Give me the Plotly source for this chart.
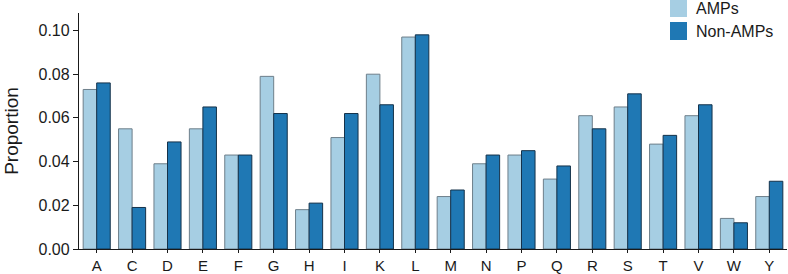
import plotly.graph_objects as go

categories = ["A", "C", "D", "E", "F", "G", "H", "I", "K", "L",
              "M", "N", "P", "Q", "R", "S", "T", "V", "W", "Y"]
amps = [0.073, 0.055, 0.039, 0.055, 0.043, 0.079, 0.018, 0.051, 0.080, 0.097,
        0.024, 0.039, 0.043, 0.032, 0.061, 0.065, 0.048, 0.061, 0.014, 0.024]
non_amps = [0.076, 0.019, 0.049, 0.065, 0.043, 0.062, 0.021, 0.062, 0.066, 0.098,
            0.027, 0.043, 0.045, 0.038, 0.055, 0.071, 0.052, 0.066, 0.012, 0.031]
y_ticks = [0.00, 0.02, 0.04, 0.06, 0.08, 0.10]
series_names = ["AMPs", "Non-AMPs"]
series_colors = ["#a6cee3", "#1f78b4"]

W, H = 788, 274
ML, MR, MT, MB = 79, 1, 13, 25
pw, ph = W - ML - MR, H - MT - MB

def px_x(x):
    return (x - ML) / pw

def px_y(y):
    return (H - MB - y) / ph

fig = go.Figure()
fig.add_trace(go.Bar(x=categories, y=amps, name=series_names[0],
                     marker=dict(color=series_colors[0], line=dict(color="#6e7f8a", width=1))))
fig.add_trace(go.Bar(x=categories, y=non_amps, name=series_names[1],
                     marker=dict(color=series_colors[1], line=dict(color="#15324a", width=1))))

# legend drawn manually (larger swatches like the reference)
shapes = []
annotations = []
for i, (nm, col) in enumerate(zip(series_names, series_colors)):
    top = -1 + i * 23
    shapes.append(dict(type="rect", xref="paper", yref="paper",
                       x0=px_x(670), x1=px_x(687), y0=px_y(top + 18), y1=px_y(top),
                       fillcolor=col, line=dict(width=0)))
    annotations.append(dict(xref="paper", yref="paper", x=px_x(694), y=px_y(top + 9),
                            xanchor="left", yanchor="middle", text=nm, showarrow=False,
                            font=dict(size=16, color="#1a1a1a")))

fig.update_layout(
    width=W, height=H,
    margin=dict(l=ML, r=MR, t=MT, b=MB),
    barmode="group", bargap=0.235, bargroupgap=0,
    plot_bgcolor="white", paper_bgcolor="white",
    font=dict(family="Liberation Sans, Arial, sans-serif", size=16, color="#1a1a1a"),
    showlegend=False,
    shapes=shapes, annotations=annotations,
    xaxis=dict(showline=True, linecolor="#1a1a1a", linewidth=1.3,
               ticks="outside", ticklen=3, tickcolor="#1a1a1a",
               showgrid=False, tickfont=dict(size=15), automargin=False),
    yaxis=dict(range=[0, 0.108], showline=True, linecolor="#1a1a1a", linewidth=1.3,
               ticks="outside", ticklen=5, tickcolor="#1a1a1a",
               tickvals=y_ticks, tickformat=".2f", showgrid=False, zeroline=False,
               tickfont=dict(size=16), automargin=False,
               title=dict(text="Proportion", font=dict(size=19), standoff=14)),
)

fig.write_html("out.html", config={"displayModeBar": False},
               post_script="document.body.style.margin='0';document.body.style.overflow='hidden';")
